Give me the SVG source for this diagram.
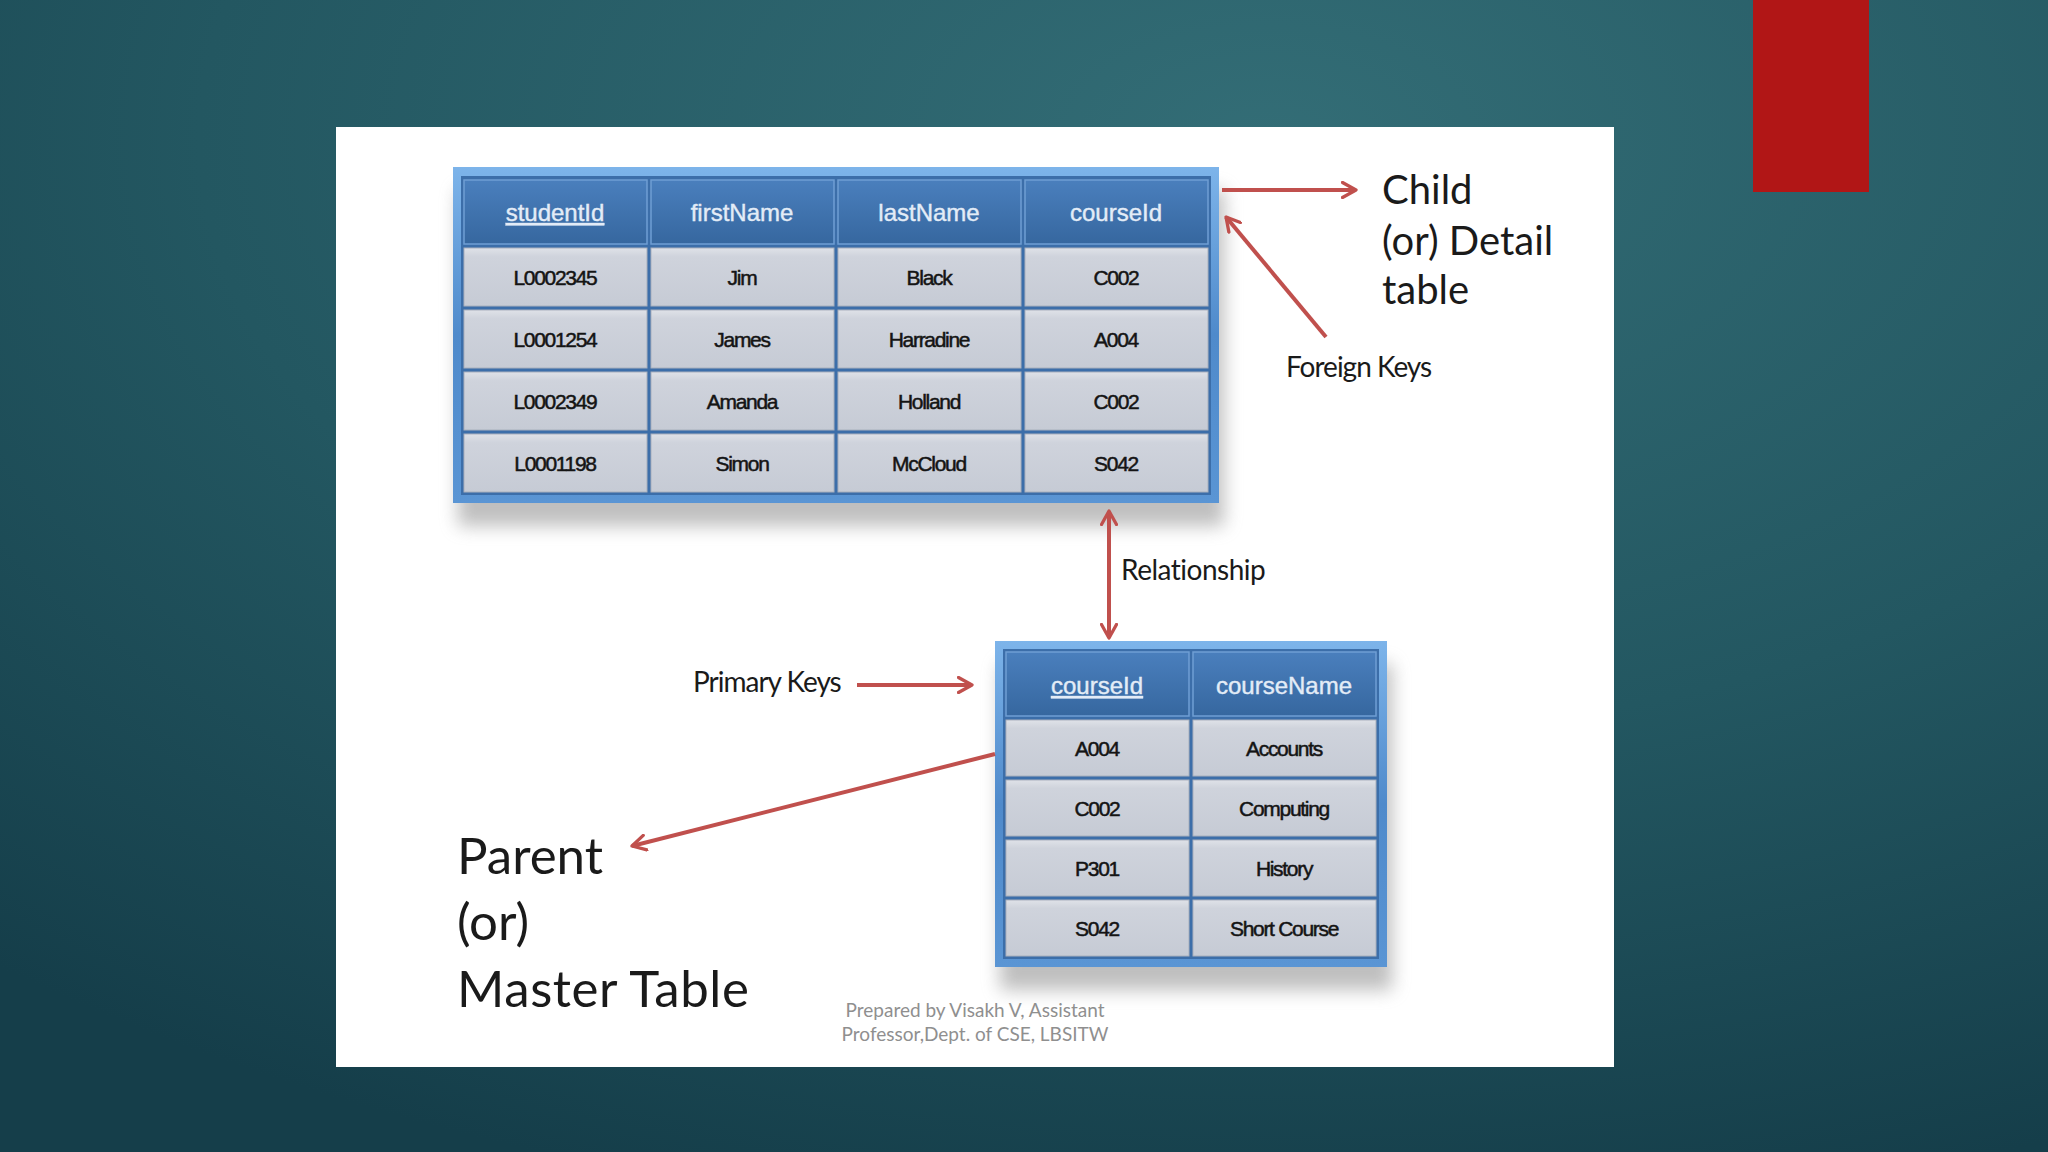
<svg xmlns="http://www.w3.org/2000/svg" width="2048" height="1152" viewBox="0 0 2048 1152">
  <defs>
    <radialGradient id="bg" cx="0.62" cy="0.12" r="0.95">
      <stop offset="0" stop-color="#336d76"/>
      <stop offset="0.55" stop-color="#235761"/>
      <stop offset="1" stop-color="#153e4a"/>
    </radialGradient>
    <linearGradient id="frame" x1="0" y1="0" x2="0" y2="1">
      <stop offset="0" stop-color="#7db4ea"/>
      <stop offset="0.5" stop-color="#4f8acb"/>
      <stop offset="1" stop-color="#5a95d4"/>
    </linearGradient>
    <linearGradient id="head" x1="0" y1="0" x2="0" y2="1">
      <stop offset="0" stop-color="#4a7fbd"/>
      <stop offset="1" stop-color="#36679f"/>
    </linearGradient>
    <linearGradient id="cell" x1="0" y1="0" x2="0" y2="1">
      <stop offset="0" stop-color="#dfe2e8"/>
      <stop offset="0.15" stop-color="#cfd3dc"/>
      <stop offset="1" stop-color="#c6cbd5"/>
    </linearGradient>
    <filter id="shadow" x="-10%" y="-10%" width="120%" height="130%">
      <feGaussianBlur stdDeviation="9"/>
    </filter>
    <marker id="arr" viewBox="0 0 12 12" refX="10" refY="6" markerWidth="4.5" markerHeight="4.5" orient="auto-start-reverse" markerUnits="strokeWidth">
      <path d="M1,1 L10,6 L1,11" fill="none" stroke="#c0504d" stroke-width="2.2" stroke-linecap="round" stroke-linejoin="round"/>
    </marker>
    <style>
      .hdr { font-family: "Liberation Sans", Arial, sans-serif; font-size: 24px; fill: #e3ecf7; text-anchor: middle; stroke: #e3ecf7; stroke-width: 0.4px; }
      .pk { text-decoration: underline; }
      .cel { font-family: "Liberation Sans", Arial, sans-serif; font-size: 21px; fill: #141414; text-anchor: middle; letter-spacing: -1.3px; stroke: #141414; stroke-width: 0.5px; }
      .lbl { font-family: Lato, "Open Sans", sans-serif; fill: #1a1a1a; }
      .conn { stroke: #c0504d; stroke-width: 4; fill: none; marker-end: url(#arr); }
      .hc { fill: url(#head); stroke: #6f9ed4; stroke-width: 1.5; }
      .dc { fill: url(#cell); stroke: #a9b0bd; stroke-width: 1; }
      .foot { font-family: Lato, "Open Sans", sans-serif; font-size: 19px; fill: #8f8f8f; text-anchor: middle; }
    </style>
  </defs>

  <rect x="0" y="0" width="2048" height="1152" fill="url(#bg)"/>
  <rect id="accent" x="1753" y="0" width="116" height="192" fill="#b11616"/>
  <rect id="panel" x="336" y="127" width="1278" height="940" fill="#ffffff"/>

  <!-- Child table -->
  <g id="student-table">
    <rect x="458" y="190" width="766" height="336" fill="#8a8a8a" opacity="0.55" filter="url(#shadow)"/>
    <rect x="453" y="167" width="766" height="336" fill="url(#frame)"/>
    <rect x="461" y="176" width="750" height="319" fill="#3c6ea9"/>
    <rect class="hc" x="464" y="180" width="183" height="64"/>
    <rect class="hc" x="651" y="180" width="183" height="64"/>
    <rect class="hc" x="838" y="180" width="183" height="64"/>
    <rect class="hc" x="1025" y="180" width="183" height="64"/>
    <text class="hdr pk" x="555" y="221">studentId</text>
    <text class="hdr" x="742" y="221">firstName</text>
    <text class="hdr" x="929" y="221">lastName</text>
    <text class="hdr" x="1116" y="221">courseId</text>
    <g>
      <rect class="dc" x="464" y="248" width="183" height="58"/>
      <rect class="dc" x="651" y="248" width="183" height="58"/>
      <rect class="dc" x="838" y="248" width="183" height="58"/>
      <rect class="dc" x="1025" y="248" width="183" height="58"/>
      <rect class="dc" x="464" y="310" width="183" height="58"/>
      <rect class="dc" x="651" y="310" width="183" height="58"/>
      <rect class="dc" x="838" y="310" width="183" height="58"/>
      <rect class="dc" x="1025" y="310" width="183" height="58"/>
      <rect class="dc" x="464" y="372" width="183" height="58"/>
      <rect class="dc" x="651" y="372" width="183" height="58"/>
      <rect class="dc" x="838" y="372" width="183" height="58"/>
      <rect class="dc" x="1025" y="372" width="183" height="58"/>
      <rect class="dc" x="464" y="434" width="183" height="58"/>
      <rect class="dc" x="651" y="434" width="183" height="58"/>
      <rect class="dc" x="838" y="434" width="183" height="58"/>
      <rect class="dc" x="1025" y="434" width="183" height="58"/>
    </g>
    <text class="cel" x="555" y="285">L0002345</text>
    <text class="cel" x="742" y="285">Jim</text>
    <text class="cel" x="929" y="285">Black</text>
    <text class="cel" x="1116" y="285">C002</text>
    <text class="cel" x="555" y="347">L0001254</text>
    <text class="cel" x="742" y="347">James</text>
    <text class="cel" x="929" y="347">Harradine</text>
    <text class="cel" x="1116" y="347">A004</text>
    <text class="cel" x="555" y="409">L0002349</text>
    <text class="cel" x="742" y="409">Amanda</text>
    <text class="cel" x="929" y="409">Holland</text>
    <text class="cel" x="1116" y="409">C002</text>
    <text class="cel" x="555" y="471">L0001198</text>
    <text class="cel" x="742" y="471">Simon</text>
    <text class="cel" x="929" y="471">McCloud</text>
    <text class="cel" x="1116" y="471">S042</text>
  </g>

  <!-- Parent table -->
  <g id="course-table">
    <rect x="1000" y="664" width="392" height="326" fill="#8a8a8a" opacity="0.55" filter="url(#shadow)"/>
    <rect x="995" y="641" width="392" height="326" fill="url(#frame)"/>
    <rect x="1003" y="649" width="376" height="310" fill="#3c6ea9"/>
    <rect class="hc" x="1006" y="652" width="183" height="64"/>
    <rect class="hc" x="1193" y="652" width="183" height="64"/>
    <text class="hdr pk" x="1097" y="694">courseId</text>
    <text class="hdr" x="1284" y="694">courseName</text>
    <rect class="dc" x="1006" y="720" width="183" height="56"/>
    <rect class="dc" x="1193" y="720" width="183" height="56"/>
    <rect class="dc" x="1006" y="780" width="183" height="56"/>
    <rect class="dc" x="1193" y="780" width="183" height="56"/>
    <rect class="dc" x="1006" y="840" width="183" height="56"/>
    <rect class="dc" x="1193" y="840" width="183" height="56"/>
    <rect class="dc" x="1006" y="900" width="183" height="56"/>
    <rect class="dc" x="1193" y="900" width="183" height="56"/>
    <text class="cel" x="1097" y="756">A004</text>
    <text class="cel" x="1284" y="756">Accounts</text>
    <text class="cel" x="1097" y="816">C002</text>
    <text class="cel" x="1284" y="816">Computing</text>
    <text class="cel" x="1097" y="876">P301</text>
    <text class="cel" x="1284" y="876">History</text>
    <text class="cel" x="1097" y="936">S042</text>
    <text class="cel" x="1284" y="936">Short Course</text>
  </g>

  <!-- Labels -->
  <g id="label-child">
    <text class="lbl" font-size="40" x="1382" y="204">Child</text>
    <text class="lbl" font-size="40" x="1382" y="255">(or) Detail</text>
    <text class="lbl" font-size="40" x="1382" y="304">table</text>
  </g>
  <g id="label-foreign"><text class="lbl" font-size="28" letter-spacing="-1" x="1286" y="377">Foreign Keys</text></g>
  <g id="label-relationship"><text class="lbl" font-size="28" letter-spacing="-0.5" x="1121" y="580">Relationship</text></g>
  <g id="label-primary"><text class="lbl" font-size="28" letter-spacing="-1" x="693" y="692">Primary Keys</text></g>
  <g id="label-parent">
    <text class="lbl" font-size="51" x="457" y="874">Parent</text>
    <text class="lbl" font-size="51" x="457" y="940">(or)</text>
    <text class="lbl" font-size="51" x="457" y="1007" letter-spacing="0.6">Master Table</text>
  </g>
  <g id="footer">
    <text class="foot" x="975" y="1017">Prepared by Visakh V, Assistant</text>
    <text class="foot" x="975" y="1041">Professor,Dept. of CSE, LBSITW</text>
  </g>

  <!-- Connectors -->
  <g id="connectors">
    <line class="conn" x1="1222" y1="190" x2="1356" y2="190"/>
    <line class="conn" x1="1326" y1="337" x2="1226" y2="217"/>
    <line class="conn" x1="1109" y1="511" x2="1109" y2="638" style="marker-start: url(#arr)"/>
    <line class="conn" x1="857" y1="685" x2="972" y2="685"/>
    <line class="conn" x1="995" y1="754" x2="632" y2="846"/>
  </g>
</svg>
